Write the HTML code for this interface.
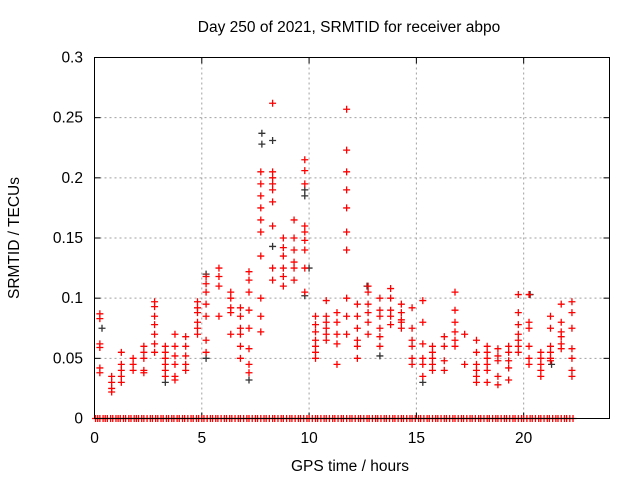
<!DOCTYPE html>
<html><head><meta charset="utf-8"><style>
body{margin:0;background:#fff;font-family:"Liberation Sans",sans-serif;}
svg text{font-family:"Liberation Sans",sans-serif;font-size:15.5px;fill:#000;}
</style></head><body>
<svg id="chart" width="640" height="480" xmlns="http://www.w3.org/2000/svg">
<rect width="640" height="480" fill="#fff"/>
<text x="349" y="32" text-anchor="middle">Day 250 of 2021, SRMTID for receiver abpo</text>
<text x="350" y="471" text-anchor="middle">GPS time / hours</text>
<text transform="translate(19,238) rotate(-90)" text-anchor="middle">SRMTID / TECUs</text>
<g id="grid"></g><g id="ticks"></g><g id="marks"></g>
<rect x="94.5" y="57.5" width="515" height="361" fill="none" stroke="#000" stroke-width="1"/>
</svg>
<script>
const xTicks=[0,5,10,15,20];
const yTicks=[0,0.05,0.1,0.15,0.2,0.25,0.3];
const yTickLabels=["0","0.05","0.1","0.15","0.2","0.25","0.3"];
const redTimes=[0.25,0.8,1.25,1.8,2.3,2.8,3.3,3.75,4.25,4.8,5.2,5.8,6.35,6.8,7.2,7.75,8.3,8.8,9.3,9.8,10.3,10.8,11.3,11.75,12.25,12.75,13.3,13.8,14.3,14.8,15.3,15.75,16.3,16.8,17.25,17.8,18.3,18.8,19.3,19.75,20.25,20.8,21.25,21.75,22.25];
const redValues=[
[.087,.083,.062,.059,.042,.038],[.035,.030,.025,.022],[.055,.045,.040,.035,.030],[.050,.045,.040],[.060,.055,.050,.040,.038],
[.097,.093,.085,.078,.070,.062,.055],[.060,.055,.050,.045,.040,.035],[.070,.060,.052,.045,.035,.032],[.068,.060,.052,.045,.040],[.097,.092,.088,.080,.075,.070],
[.118,.112,.105,.095,.085,.065,.055],[.125,.118,.110,.085],[.105,.100,.092,.088,.070],[.092,.085,.075,.070,.060,.050],[.122,.115,.105,.090,.075,.058,.045,.038],
[.205,.195,.185,.175,.165,.155,.135,.100,.085,.072],[.262,.205,.200,.195,.190,.180,.160,.125,.115],[.150,.142,.135,.125,.118,.110],[.165,.150,.140,.130,.125,.115],[.215,.206,.195,.160,.155,.148,.140,.125,.105],
[.085,.078,.072,.065,.060,.055,.050],[.098,.085,.080,.075,.070,.065],[.088,.080,.070,.062,.045],[.257,.223,.205,.190,.175,.155,.140,.100,.085,.070],[.095,.085,.075,.065,.060,.050],
[.110,.105,.095,.088,.080,.070],[.100,.090,.085,.075,.068,.060],[.108,.100,.090,.085,.078],[.095,.088,.082,.080,.075],[.092,.075,.065,.060,.050,.045],
[.098,.080,.062,.050,.045,.035],[.060,.055,.050,.045,.040],[.068,.060,.048,.040],[.105,.090,.080,.072,.065,.060],[.070,.045],
[.065,.055,.045,.040,.035,.030],[.060,.055,.050,.045,.040,.030],[.058,.052,.048,.035,.028],[.060,.055,.048,.042,.032],[.103,.088,.078,.070,.065,.060,.055],
[.103,.080,.075,.060,.050,.045],[.055,.050,.045,.040,.035],[.085,.075,.060,.055,.050,.048],[.095,.080,.072,.068,.062,.058],[.097,.088,.075,.058,.050,.040,.035]];
const blackTimes=[0.35,3.3,5.2,5.2,7.2,7.8,7.8,8.3,8.3,9.8,9.8,9.8,10.0,12.7,13.3,15.3,20.3,21.3];
const blackValues=[.075,.030,.120,.050,.032,.237,.228,.231,.143,.190,.185,.102,.125,.110,.052,.030,.103,.045];
const zeroTimes=[0.05,0.15,0.25,0.4,0.5,0.6,0.75,0.85,1.0,1.1,1.2,1.35,1.45,1.6,1.7,1.85,1.95,2.05,2.2,2.3,2.45,2.6,2.7,2.85,2.95,3.1,3.2,3.35,3.45,3.6,3.7,3.85,3.95,4.1,4.2,4.35,4.5,4.6,4.75,4.85,5.0,5.1,5.25,5.4,5.5,5.65,5.75,5.9,6.05,6.15,6.3,6.4,6.55,6.7,6.8,6.95,7.1,7.2,7.35,7.5,7.6,7.75,7.9,8.0,8.15,8.3,8.4,8.55,8.7,8.8,8.95,9.1,9.2,9.35,9.5,9.6,9.75,9.9,10.0,10.15,10.3,10.4,10.55,10.7,10.8,10.95,11.1,11.2,11.35,11.5,11.6,11.75,11.9,12.0,12.15,12.3,12.4,12.55,12.7,12.8,12.95,13.1,13.2,13.35,13.5,13.6,13.75,13.9,14.0,14.15,14.3,14.4,14.55,14.7,14.8,14.95,15.1,15.2,15.35,15.5,15.6,15.75,15.9,16.0,16.15,16.3,16.4,16.55,16.7,16.8,16.95,17.1,17.2,17.35,17.5,17.6,17.75,17.9,18.0,18.15,18.3,18.4,18.55,18.7,18.8,18.95,19.1,19.2,19.35,19.5,19.6,19.75,19.9,20.0,20.15,20.3,20.4,20.55,20.7,20.8,20.95,21.1,21.2,21.35,21.5,21.6,21.75,21.9,22.0,22.15,22.3];
const X0=94.5,X1=609.5,Y0=418.5,Y1=57.5,XMAX=24,YMAX=0.3;
function xs(t){return X0+(X1-X0)*t/XMAX;}
function ys(v){return Y0-(Y0-Y1)*v/YMAX;}
const NS="http://www.w3.org/2000/svg";
function mk(tag,attrs,parent){const e=document.createElementNS(NS,tag);for(const k in attrs)e.setAttribute(k,attrs[k]);parent.appendChild(e);return e;}
const grid=document.getElementById('grid'),ticks=document.getElementById('ticks'),marks=document.getElementById('marks');
xTicks.forEach(t=>{const x=xs(t);
 if(t>0){const g=mk('line',{x1:x,x2:x,y1:Y1,y2:Y0,stroke:'#a0a0a0','stroke-dasharray':'2,3'},grid);
 
 }
 mk('line',{x1:x,x2:x,y1:Y0,y2:Y0-6,stroke:'#000'},ticks);mk('line',{x1:x,x2:x,y1:Y1,y2:Y1+6,stroke:'#000'},ticks);
 const l=mk('text',{x:x,y:443,'text-anchor':'middle'},ticks);l.textContent=t;
 
 });
yTicks.forEach((v,i)=>{const y=ys(v);
 if(v>0&&v<0.3){const g=mk('line',{x1:X0,x2:X1,y1:y,y2:y,stroke:'#a0a0a0','stroke-dasharray':'2,3'},grid);
 
 }
 mk('line',{x1:X0,x2:X0+6,y1:y,y2:y,stroke:'#000'},ticks);mk('line',{x1:X1,x2:X1-6,y1:y,y2:y,stroke:'#000'},ticks);
 const l=mk('text',{x:83,y:y+5,'text-anchor':'end'},ticks);l.textContent=yTickLabels[i];
 
 });
function plus(t,v,col,name){const x=xs(t),y=ys(v);
 const p=mk('path',{d:`M${x-3.5} ${y}H${x+3.5}M${x} ${y-3.5}V${y+3.5}`,stroke:col,'stroke-width':1.3,fill:'none'},marks);
 
 }
blackTimes.forEach((t,i)=>plus(t,blackValues[i],'#333','black-point'));
redTimes.forEach((t,i)=>redValues[i].forEach(v=>plus(t,v,'#f00','red-point')));
zeroTimes.forEach(t=>plus(t,0,'#f00','zero-point'));
</script>
</body></html>
